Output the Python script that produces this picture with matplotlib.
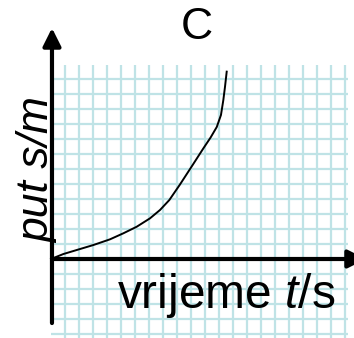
import matplotlib
matplotlib.use("Agg")
import matplotlib.pyplot as plt
import numpy as np

plt.rcParams['font.family'] = ['Liberation Sans', 'DejaVu Sans']
plt.rcParams['mathtext.fontset'] = 'custom'
plt.rcParams['mathtext.rm'] = 'Liberation Sans'
plt.rcParams['mathtext.it'] = 'Liberation Sans:italic'

# krivulja s(t), u jedinicama mreze
t_vals = [0, 0.88, 1.84, 3.02, 4.21, 5.16, 6.12, 7.07, 7.79, 8.45, 9.2,
          10.14, 10.9, 11.4, 11.84, 12.14, 12.31, 12.43, 12.55]
s_vals = [0, 0.33, 0.6, 0.93, 1.31, 1.71, 2.15, 2.71, 3.27, 3.93, 4.95,
          6.3, 7.4, 8.1, 8.8, 9.6, 10.6, 11.49, 12.49]

title = "C"
xlabel = "vrijeme $t$/s"
ylabel = "put s/m"

grid_x = np.arange(1, 22)
grid_y = np.arange(-5, 13)

fig = plt.figure(figsize=(3.54, 3.38), dpi=100)
ax = fig.add_axes([0, 0, 1, 1])
ax.set_xlim(-51 / 14, 303 / 14)
ax.set_ylim(-79 / 15, 259 / 15)
ax.axis('off')

gc = '#bfe3e6'
ax.vlines(grid_x, -5.3, 12.93, color=gc, lw=1.6, zorder=1)
ax.hlines(grid_y, 0, 21.2, color=gc, lw=1.6, zorder=1)

# osi sa strelicama
arrow = dict(arrowstyle='-|>,head_length=0.54,head_width=0.27', lw=3,
             color='black', mutation_scale=20, shrinkA=0, shrinkB=0)
ax.annotate('', xy=(0.07, 15.4), xytext=(0.07, -4.27), arrowprops=arrow,
            annotation_clip=False, zorder=3)
ax.annotate('', xy=(22.5, 0), xytext=(0.07, 0), arrowprops=arrow,
            annotation_clip=False, zorder=3)

ax.plot(t_vals, s_vals, color='black', lw=1.4, zorder=4,
        solid_joinstyle='round')

ax.text(10.4, 15.4, title, fontsize=32, ha='center', va='center')
ax.text(4.7, -3.25, xlabel, fontsize=34.5, ha='left', va='baseline')
ax.text(-0.95, 5.95, ylabel, fontsize=32, style='italic', rotation=90,
        ha='center', va='center')

fig.savefig('out.png', dpi=100)
